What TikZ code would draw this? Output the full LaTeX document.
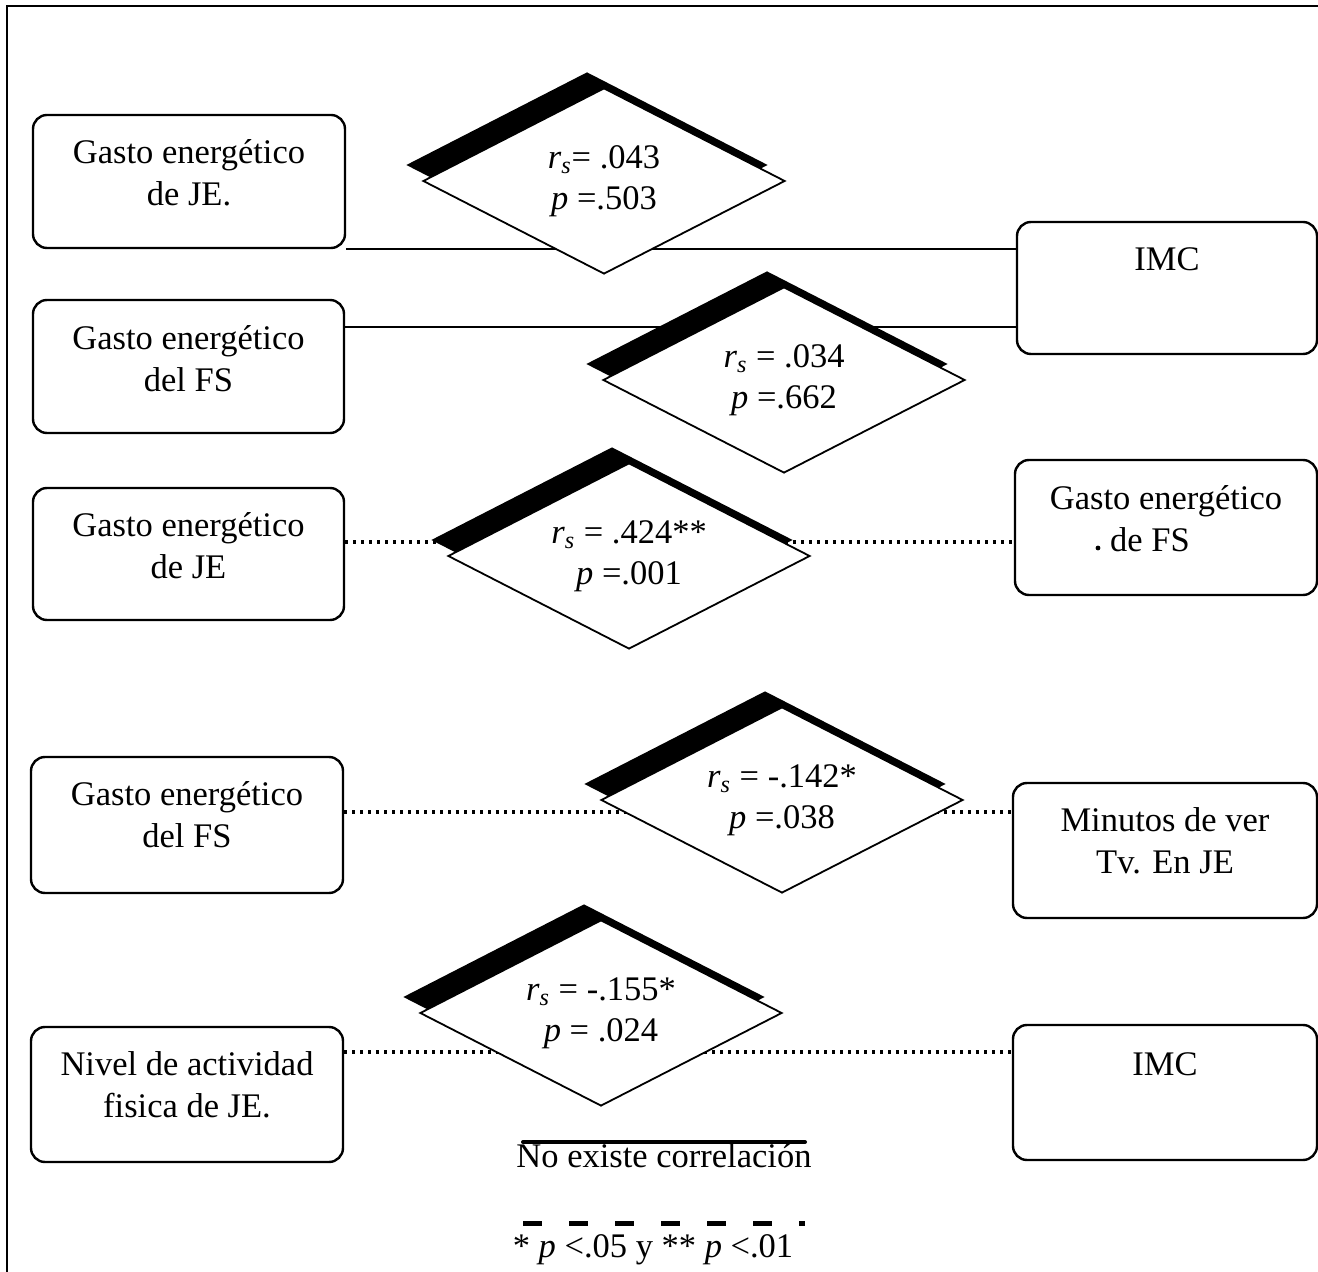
\documentclass[tikz,border=0pt]{standalone}
\usepackage{fontspec}
\setmainfont{Liberation Serif}
\usetikzlibrary{shapes.geometric,shadows}
\begin{document}
\begin{tikzpicture}[x=0.5pt,y=-0.5pt,
  box/.style={draw, line width=1.2pt, rounded corners=7pt, inner sep=0pt},
  txt/.style={align=center, font=\fontsize{17.25}{21}\selectfont, inner sep=0pt},
  dia/.style={diamond, draw, line width=0.9pt, fill=white, aspect=2, inner sep=0pt,
    minimum width=181pt, minimum height=93pt, align=center,
    font=\fontsize{17.25}{20.5}\selectfont,
    general shadow={fill=black, shadow xshift=-8.5pt, shadow yshift=8pt}},
  solidc/.style={line width=1.2pt},
  dotc/.style={line width=1.6pt, dash pattern=on 1.6pt off 2.4pt},
  frame/.style={line width=1.2pt}]
\useasboundingbox (0,0) rectangle (1318,1272);
\coordinate (fa) at (7,1272);
\coordinate (fb) at (7,6);
\coordinate (fc) at (1318,6);
\draw[frame] (fa) -- (fb) -- (fc);

% left boxes
\node[box, minimum width=156pt, minimum height=66.5pt] (L1) at (189,181.5) {};
\node[txt] (L1t) at ([yshift=4.5pt]L1.center) {Gasto energético\\de JE.};
\node[box, minimum width=155.5pt, minimum height=66.5pt] (L2) at (188.5,366.5) {};
\node[txt] (L2t) at ([yshift=4pt]L2.center) {Gasto energético\\del FS};
\node[box, minimum width=155.5pt, minimum height=66pt] (L3) at (188.5,554) {};
\node[txt] (L3t) at ([yshift=4pt]L3.center) {Gasto energético\\de JE};
\node[box, minimum width=156pt, minimum height=68pt] (L4) at (187,825) {};
\node[txt] (L4t) at ([yshift=5pt]L4.center) {Gasto energético\\del FS};
\node[box, minimum width=156pt, minimum height=67.5pt] (L5) at (187,1094.5) {};
\node[txt] (L5t) at ([yshift=5pt]L5.center) {Nivel de actividad\\fisica de JE.};

% right boxes
\node[box, minimum width=150pt, minimum height=66pt] (R1) at (1167,288) {};
\node[txt] (R1t) at ([yshift=14.5pt]R1.center) {IMC};
\node[box, minimum width=151pt, minimum height=67.5pt] (R2) at (1166,527.5) {};
\node[txt] (R2t) at ([yshift=4.5pt]R2.center) {Gasto energético\\de FS\hspace*{16pt}};
\fill (1098,548) circle (1.2pt);
\node[box, minimum width=152pt, minimum height=67.5pt] (R3) at (1165,850.5) {};
\node[txt] (R3t) at ([yshift=4.75pt]R3.center) {Minutos de ver\\Tv. En JE};
\node[box, minimum width=152pt, minimum height=67.5pt] (R4) at (1165,1092.5) {};
\node[txt] (R4t) at ([yshift=14pt]R4.center) {IMC};

% connectors
\draw[solidc] (L1.south east) -- (L1.south east -| R1.west);
\draw[solidc] ([yshift=19.75pt]L2.east) -- ([yshift=19.75pt]L2.east -| R1.west);
\draw[dotc] ([yshift=6pt]L3.east) -- ([yshift=6pt]L3.east -| R2.west);
\draw[dotc] ([yshift=6.5pt]L4.east) -- ([yshift=6.5pt]L4.east -| R3.west);
\draw[dotc] ([yshift=21.25pt]L5.east) -- ([yshift=21.25pt]L5.east -| R4.west);

% diamonds
\node[dia] (D1) at (604,181) {\textit{r}\textsubscript{\textit{s}}= .043\\\textit{p} =.503};
\node[dia] (D2) at (784,380) {\textit{r}\textsubscript{\textit{s}} = .034\\\textit{p} =.662};
\node[dia] (D3) at (629,556) {\textit{r}\textsubscript{\textit{s}} = .424**\\\textit{p} =.001};
\node[dia] (D4) at (782,800) {\textit{r}\textsubscript{\textit{s}} = -.142*\\\textit{p} =.038};
\node[dia] (D5) at (601,1013) {\textit{r}\textsubscript{\textit{s}} = -.155*\\\textit{p} = .024};

% legend
\coordinate (lg1a) at (523,1142);
\coordinate (lg1b) at (805,1142);
\draw[line width=2pt, line cap=round] (lg1a) -- (lg1b);
\node[txt, anchor=base] (lgt1) at (664,1167) {No existe correlación};
\coordinate (lg2a) at (523,1223);
\coordinate (lg2b) at (805,1223);
\draw[line width=2.5pt, dash pattern=on 9.5pt off 13.5pt] (lg2a) -- (lg2b);
\node[txt, anchor=base] (lgt2) at (653,1257) {* \textit{p} <.05 y ** \textit{p} <.01};
\end{tikzpicture}
\end{document}
